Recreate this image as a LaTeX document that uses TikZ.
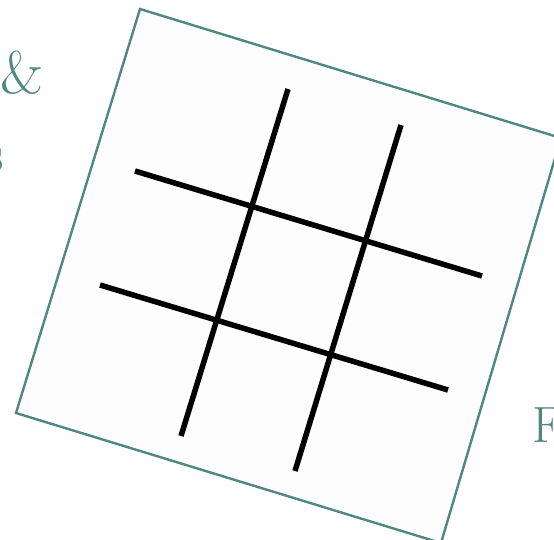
\documentclass[tikz,border=0pt]{standalone}
\definecolor{teal1}{RGB}{80,135,130}
\tikzset{
  frame/.style={draw=teal1, line width=2.4pt, fill=black!0.8, line join=miter},
  gridline/.style={draw=black, line width=5.5pt, line cap=butt},
  label/.style={text=teal1, inner sep=0pt, font=\fontsize{60}{62}\selectfont},
  labelsm/.style={text=teal1, inner sep=0pt, font=\fontsize{51}{54}\selectfont}
}
\begin{document}
\begin{tikzpicture}[x=1pt,y=-1pt]
\useasboundingbox (0,0) rectangle (554,539);
\clip (0,0) rectangle (554,539);
\fill[white] (0,0) rectangle (554,539);
% frame corners
\coordinate (tl) at (140,9);
\coordinate (tr) at (561,138);
\coordinate (br) at (441,543);
\coordinate (bl) at (16,413);
\draw[frame] (tl) -- (tr) -- (br) -- (bl) -- cycle;
% grid endpoints
\coordinate (h1a) at (135,171);
\coordinate (h1b) at (482,276);
\coordinate (h2a) at (100,285);
\coordinate (h2b) at (448,390);
\coordinate (v1a) at (288,89);
\coordinate (v1b) at (181,436);
\coordinate (v2a) at (401,125);
\coordinate (v2b) at (295,471);
\draw[gridline] (h1a) -- (h1b);
\draw[gridline] (h2a) -- (h2b);
\draw[gridline] (v1a) -- (v1b);
\draw[gridline] (v2a) -- (v2b);
% partial texts
\node[label, anchor=base west] (amp) at (0,93) {\&};
\node[labelsm, anchor=base east] (s) at (4,171) {s};
\node[labelsm, anchor=base west] (f) at (532,442) {F};
\end{tikzpicture}
\end{document}
